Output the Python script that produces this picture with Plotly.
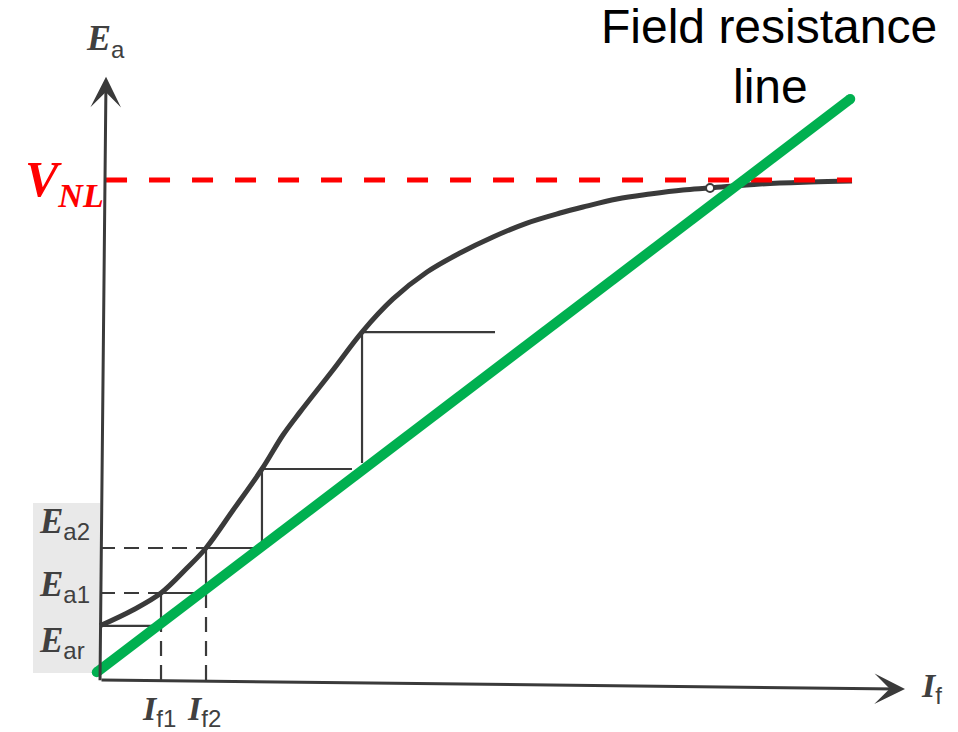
import plotly.graph_objects as go

# ---------------- data (arbitrary units: field current I_f, armature voltage E_a) ----------------
# Magnetization (open-circuit) curve
curve_if = [0.0, 0.41, 0.758, 1.081, 1.317, 1.652, 2.012, 2.273, 2.484, 2.894, 3.255, 3.64, 4.062,
            4.472, 4.882, 5.304, 5.714, 6.0, 6.422, 6.832, 7.242, 7.578, 8.199, 8.82, 9.342]
curve_ea = [0.90, 1.163, 1.445, 1.86, 2.193, 2.82, 3.505, 4.07, 4.45, 5.15, 5.78, 6.33, 6.777,
            7.093, 7.359, 7.591, 7.757, 7.857, 7.99, 8.073, 8.14, 8.173, 8.239, 8.272, 8.289]

# Field resistance line
field_if = [-0.04, 9.32]
field_ea = [0.13, 9.65]

# No-load voltage level
v_nl = 8.306
v_nl_if = [0.075, 9.342]

# Voltage build-up staircase
e_ar = 0.90
i_f1, e_a1 = 0.758, 1.445
i_f2, e_a2 = 1.317, 2.193
i_f3, e_a3 = 2.012, 3.505
i_f3_end = 3.13
i_f4, e_a4 = 3.255, 5.78
e_a4_low = 3.605
i_f4_end = 4.907

# label heights of E_ar, E_a1, E_a2 on the vertical axis
e_label_pos = {"ar": 0.63, "a1": 1.56, "a2": 2.60}

# Operating point marker
op_if, op_ea = 7.578, 8.173

# Axes (tail, tip)
x_axis = [(0.0, 0.0), (10.0, -0.15)]
y_axis = [(0.0, -0.03), (0.075, 10.02)]

# label panel behind E labels
panel_if = [-0.832, 0.0]
panel_ea = [0.116, 2.94]

X_RANGE = [-1.2422, 10.6584]
Y_RANGE = [-0.8638, 11.2957]

INK = "#3a3a3a"
fig = go.Figure()

fig.add_shape(type="rect", x0=panel_if[0], x1=panel_if[1], y0=panel_ea[0], y1=panel_ea[1],
              fillcolor="#e9e9e9", line_width=0, layer="below")

# dashed projection lines
dx, dy = [], []
for seg in [((0, e_a1), (i_f1, e_a1)), ((0, e_a2), (i_f2, e_a2)),
            ((i_f1, 0), (i_f1, e_ar)), ((i_f2, 0), (i_f2, e_a1))]:
    dx += [seg[0][0], seg[1][0], None]
    dy += [seg[0][1], seg[1][1], None]
fig.add_trace(go.Scatter(x=dx, y=dy, mode="lines",
                         line=dict(color=INK, width=2.2, dash="15px,9px"), hoverinfo="skip"))

# solid staircase
sx, sy = [], []
for seg in [((0, e_ar), (i_f1, e_ar)), ((i_f1, e_ar), (i_f1, e_a1)), ((i_f1, e_a1), (i_f2, e_a1)),
            ((i_f2, e_a1), (i_f2, e_a2)), ((i_f2, e_a2), (i_f3, e_a2)), ((i_f3, e_a2), (i_f3, e_a3)),
            ((i_f3, e_a3), (i_f3_end, e_a3)), ((i_f4, e_a4_low), (i_f4, e_a4)),
            ((i_f4, e_a4), (i_f4_end, e_a4))]:
    sx += [seg[0][0], seg[1][0], None]
    sy += [seg[0][1], seg[1][1], None]
fig.add_trace(go.Scatter(x=sx, y=sy, mode="lines", line=dict(color=INK, width=2.2), hoverinfo="skip"))

# magnetization curve
fig.add_trace(go.Scatter(x=curve_if, y=curve_ea, mode="lines",
                         line=dict(color=INK, width=5, shape="spline", smoothing=1.0), hoverinfo="skip"))

# operating point
fig.add_trace(go.Scatter(x=[op_if], y=[op_ea], mode="markers",
                         marker=dict(color="white", size=8, line=dict(color=INK, width=2)), hoverinfo="skip"))

# V_NL line
fig.add_trace(go.Scatter(x=v_nl_if, y=[v_nl, v_nl], mode="lines",
                         line=dict(color="#ff0000", width=5, dash="21px,22px"), hoverinfo="skip"))

# field resistance line
fig.add_trace(go.Scatter(x=field_if, y=field_ea, mode="lines+markers",
                         line=dict(color="#00b050", width=10),
                         marker=dict(color="#00b050", size=10), hoverinfo="skip"))

# axes with arrows
for tail, tip in (x_axis, y_axis):
    fig.add_annotation(x=tip[0], y=tip[1], ax=tail[0], ay=tail[1], xref="x", yref="y",
                       axref="x", ayref="y", text="", showarrow=True, arrowhead=3,
                       arrowsize=1.7, arrowwidth=3, arrowcolor=INK, standoff=0)

SERIF = "Liberation Serif"
SUBF = "Liberation Sans"


def elabel(main, sub, subsize):
    return (f"<b><i>{main}</i></b><sub><span style='font-family:{SUBF};font-weight:normal;"
            f"font-size:{subsize}px'>{sub}</span></sub>")


LBL = "#404040"
# E labels on vertical axis
for txt, yv in e_label_pos.items():
    fig.add_annotation(x=-0.78, y=yv, xref="x", yref="y", text=elabel("E", txt, 24),
                       showarrow=False, xanchor="left", yanchor="middle",
                       font=dict(family=SERIF, size=35, color=LBL))

# I labels under horizontal axis
for txt, xv in (("f1", i_f1), ("f2", i_f2)):
    fig.add_annotation(x=xv - 0.03, y=-0.14, xref="x", yref="y", text=elabel("I", txt, 24),
                       showarrow=False, xanchor="center", yanchor="top",
                       font=dict(family=SERIF, size=34, color=LBL))

fig.add_annotation(x=10.17, y=-0.14, xref="x", yref="y", text=elabel("I", "f", 24),
                   showarrow=False, xanchor="left", yanchor="middle",
                   font=dict(family=SERIF, size=34, color=LBL))
fig.add_annotation(x=0.07, y=10.22, xref="x", yref="y", text=elabel("E", "a", 24),
                   showarrow=False, xanchor="center", yanchor="bottom",
                   font=dict(family=SERIF, size=36, color=LBL))

# V_NL label
fig.add_annotation(x=-0.96, y=v_nl - 0.05, xref="x", yref="y",
                   text="<b><i>V</i></b><sub><b><i><span style='font-size:34px'>NL</span></i></b></sub>",
                   showarrow=False, xanchor="left", yanchor="middle",
                   font=dict(family=SERIF, size=50, color="#ff0000"))

# Field resistance line label
fig.add_annotation(x=8.31, y=10.86, xref="x", yref="y", text="Field resistance",
                   showarrow=False, xanchor="center", yanchor="middle",
                   font=dict(family="Liberation Sans", size=48, color="black"))
fig.add_annotation(x=8.33, y=9.86, xref="x", yref="y", text="line",
                   showarrow=False, xanchor="center", yanchor="middle",
                   font=dict(family="Liberation Sans", size=48, color="black"))

fig.update_layout(
    width=958, height=732, margin=dict(l=0, r=0, t=0, b=0),
    paper_bgcolor="white", plot_bgcolor="white", showlegend=False,
    xaxis=dict(range=X_RANGE, visible=False, fixedrange=True),
    yaxis=dict(range=Y_RANGE, visible=False, fixedrange=True),
)

fig.write_html("out.html", config={"displayModeBar": False},
               post_script="document.body.style.margin='0';document.body.style.overflow='hidden';")
